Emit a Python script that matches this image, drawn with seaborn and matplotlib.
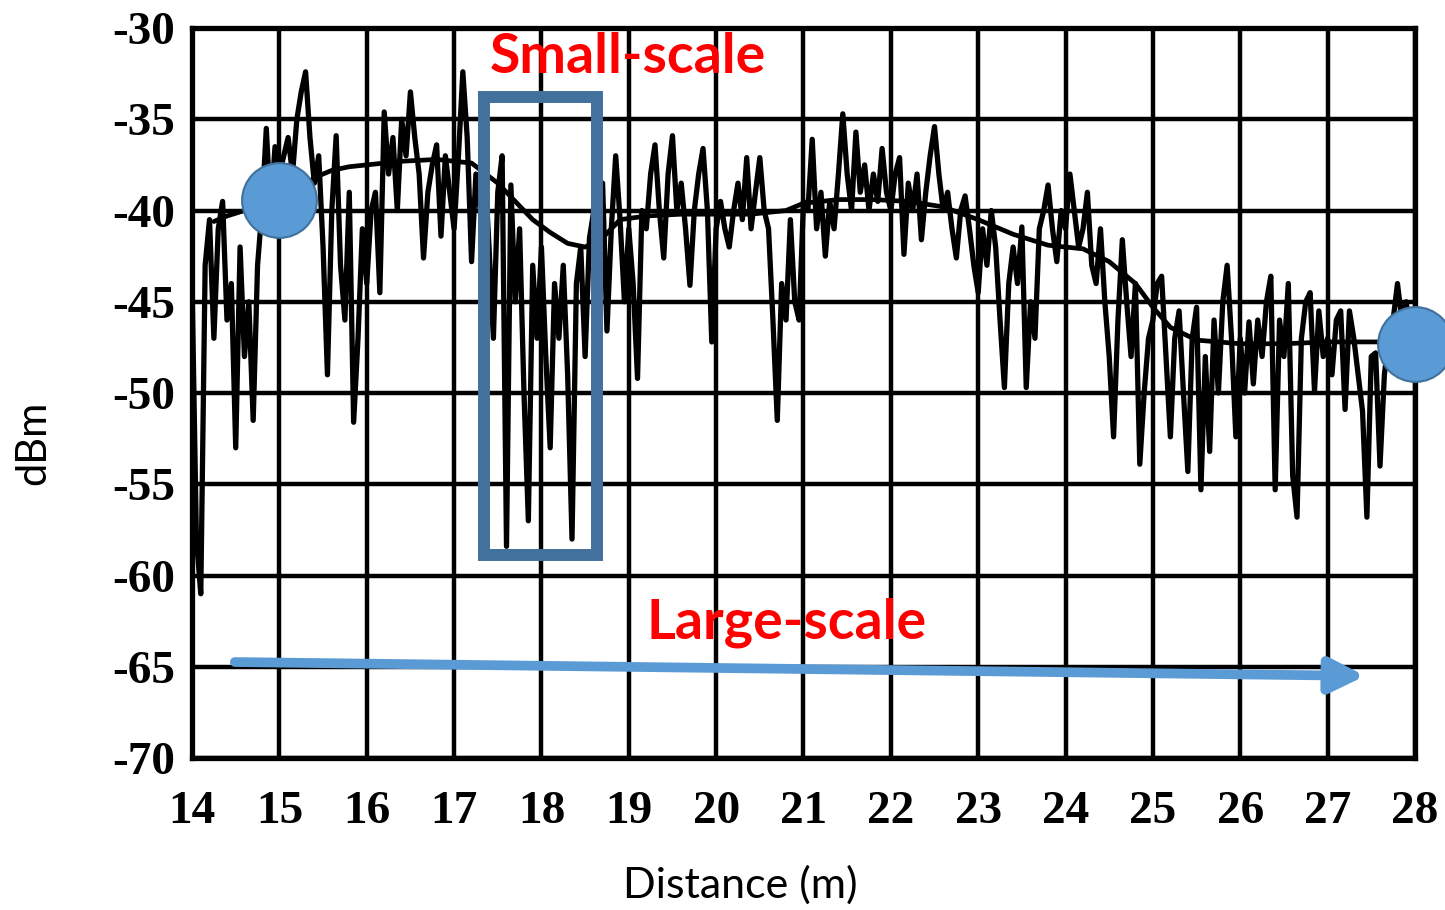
import matplotlib
matplotlib.use("Agg")
import matplotlib.pyplot as plt
import matplotlib.patches as mpatches
import numpy as np
import pandas as pd
import seaborn as sns

# ---------------- data ----------------
x_start = 14.0
x_step = 0.05
signal_dbm = [
    # 14.00 - 14.95
    -44, -58, -61, -43, -40.5, -47, -41, -39.5, -46, -44,
    -53, -42, -48, -45, -51.5, -43, -40, -35.5, -40, -36.5,
    # 15.00 - 15.95
    -38, -37, -36, -38, -35, -33.5, -32.4, -36, -38.5, -37,
    -42, -49, -40, -35.9, -43, -46, -39, -51.6, -47, -41,
    # 16.00 - 16.95
    -44, -40, -39, -44.5, -34.6, -38, -36, -40, -35, -37,
    -33.5, -36, -38, -42.6, -39, -37.5, -36.4, -41.4, -37, -39,
    # 17.00 - 17.95
    -41, -37, -32.4, -36, -42.8, -38, -40, -37.5, -42, -47,
    -39, -37, -58.4, -38.6, -45, -41, -50, -57, -43, -47,
    # 18.00 - 18.95
    -42, -48, -53, -44, -47, -43, -49, -58, -44, -42,
    -48, -41.5, -40, -42, -38.5, -46.6, -41, -37, -40.5, -45,
    # 19.00 - 19.95
    -41, -44, -49.2, -40, -41, -38, -36.4, -40, -42.6, -38,
    -35.9, -40, -38.5, -41, -44.1, -40, -38, -36.6, -40, -47.2,
    # 20.00 - 20.95
    -41, -39.5, -41, -42, -40, -38.5, -40.5, -37.1, -41, -39,
    -37.1, -40, -41, -46, -51.5, -44, -46, -40.5, -45, -46,
    # 21.00 - 21.95
    -39.5, -40, -36.1, -41, -39, -42.5, -39.5, -41, -38, -34.7,
    -38, -40, -35.7, -39, -37.5, -40, -38, -39.5, -36.6, -39,
    # 22.00 - 22.95
    -40, -38, -37.1, -42.4, -38.5, -40, -38, -41.6, -39, -37,
    -35.4, -38, -40, -39, -41, -42.6, -40, -39.2, -41, -43,
    # 23.00 - 23.95
    -44.5, -41, -43, -40, -42, -46, -49.7, -44, -42, -44,
    -40.9, -49.7, -45, -47, -41, -40, -38.6, -41, -42.8, -40,
    # 24.00 - 24.95
    -41, -38, -40, -42, -41, -39, -43, -44, -41, -45,
    -48, -52.4, -46, -41.6, -45, -48, -44, -53.9, -50, -47,
    # 25.00 - 25.95
    -46, -44, -43.6, -48, -52.4, -47, -45.5, -50, -54.3, -47,
    -45.3, -55.3, -48, -53.2, -46, -50, -45, -43, -47, -52.4,
    # 26.00 - 26.95
    -47, -50, -46.1, -49.5, -46, -48, -45, -43.6, -55.3, -46,
    -48, -44, -54.5, -56.8, -47, -45, -44.5, -49.9, -45.5, -48,
    # 27.00 - 28.00
    -47, -49, -46, -45.5, -50.9, -45.5, -47, -49, -51, -56.8,
    -48, -47.8, -54, -49, -47, -46, -44, -46, -45, -47, -46,
]
distance_m = [round(x_start + i * x_step, 2) for i in range(len(signal_dbm))]

mean_distance_m = [14.25, 14.4, 14.6, 14.8, 15.0, 15.2, 15.4, 15.6, 15.8, 16.0,
                   16.4, 16.8, 17.2, 17.5, 17.7, 17.9, 18.1, 18.3, 18.5, 18.7,
                   18.9, 19.2, 19.6, 20.0, 20.4, 20.8, 21.0, 21.4, 21.8, 22.2,
                   22.6, 23.0, 23.4, 23.8, 24.2, 24.5, 24.8, 25.0, 25.2, 25.5,
                   26.0, 26.5, 27.0, 27.5, 28.0]
mean_dbm = [-40.6, -40.3, -40.0, -39.8, -39.5, -39.0, -38.2, -37.8, -37.6, -37.5,
            -37.3, -37.2, -37.4, -38.5, -39.5, -40.5, -41.2, -41.8, -42.0, -41.5,
            -40.5, -40.3, -40.2, -40.2, -40.2, -40.0, -39.6, -39.4, -39.4, -39.5,
            -39.8, -40.5, -41.3, -41.9, -42.1, -42.8, -44.0, -45.3, -46.4, -47.1,
            -47.3, -47.3, -47.2, -47.2, -47.2]

x_ticks = list(range(14, 29))
x_tick_labels = [str(v) for v in x_ticks]
y_ticks = [-70, -65, -60, -55, -50, -45, -40, -35, -30]
y_tick_labels = ["-70", "-65", "-60", "-55", "-50", "-45", "-40", "-35", "-30"]

marker_distance = [15.0, 28.0]
marker_dbm = [-39.4, -47.3]

# ---------------- plot ----------------
sns.set_theme(style="white")
plt.rcParams["axes.unicode_minus"] = False

fig = plt.figure(figsize=(14.45, 9.10), dpi=100)
ax = fig.add_axes([0.1329, 0.1670, 0.9792 - 0.1329, 0.9692 - 0.1670])

df_sig = pd.DataFrame({"distance": distance_m, "dbm": signal_dbm})
df_mean = pd.DataFrame({"distance": mean_distance_m, "dbm": mean_dbm})

sns.lineplot(data=df_sig, x="distance", y="dbm", ax=ax, color="black",
             linewidth=3.8, zorder=3, estimator=None, sort=False)
sns.lineplot(data=df_mean, x="distance", y="dbm", ax=ax, color="black",
             linewidth=3.4, zorder=3, estimator=None, sort=False)

ax.set_xlim(14, 28)
ax.set_ylim(-70, -30)
ax.set_xticks(x_ticks, labels=x_tick_labels)
ax.set_yticks(y_ticks, labels=y_tick_labels)
ax.grid(True, color="black", linewidth=3.2)
ax.set_axisbelow(True)
for sp in ax.spines.values():
    sp.set_color("black")
    sp.set_linewidth(3.8)
    sp.set_visible(True)

ax.tick_params(axis="both", length=0)
ax.tick_params(axis="x", pad=24)
ax.tick_params(axis="y", pad=12)
for lab in ax.get_xticklabels() + ax.get_yticklabels():
    lab.set_fontfamily("Liberation Serif")
    lab.set_fontweight("bold")
    lab.set_fontsize(34)
    lab.set_color("black")

ax.set_xlabel("Distance (m)", fontsize=31, family="Lato", color="black")
ax.set_ylabel("dBm", fontsize=30, family="Lato", color="black")
ax.xaxis.set_label_coords(0.448, -0.174)
ax.yaxis.set_label_coords(-0.130, 0.4315)
ax.xaxis.label.set_va("center")
ax.yaxis.label.set_va("center")

# Small-scale box
rect = mpatches.Rectangle((17.34, -58.9), 1.30, 25.1, fill=False,
                          edgecolor="#41719C", linewidth=8.6, zorder=5)
ax.add_patch(rect)

# Large-scale arrow
ax.annotate("", xy=(27.43, -65.5), xytext=(14.49, -64.74),
            arrowprops=dict(arrowstyle="-|>", color="#5B9BD5", lw=7,
                            mutation_scale=52, shrinkA=0, shrinkB=0),
            zorder=5)

# circle markers
ax.scatter(marker_distance, marker_dbm, s=2900, color="#5B9BD5",
           edgecolor="#41719C", linewidth=1.5, zorder=6, clip_on=False)

ax.text(18.99, -31.6, "Small-scale", color="#FF0000", fontsize=40,
        fontweight="bold", family="Lato", ha="center", va="center", zorder=7)
ax.text(20.81, -62.6, "Large-scale", color="#FF0000", fontsize=40,
        fontweight="bold", family="Lato", ha="center", va="center", zorder=7)

fig.savefig("out.png", dpi=100, facecolor="white")
